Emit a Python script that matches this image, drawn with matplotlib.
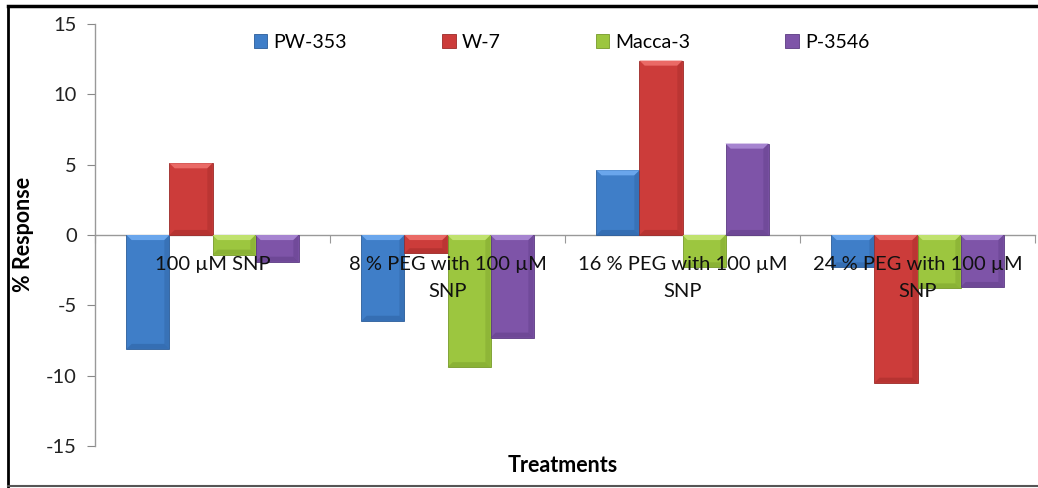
import numpy as np
import matplotlib.pyplot as plt
from matplotlib.patches import Polygon, Rectangle
from matplotlib.lines import Line2D

plt.rcParams["font.family"] = ["Lato", "DejaVu Sans"]
plt.rcParams["axes.unicode_minus"] = False

treatments = ["100 µM SNP", "8 % PEG with 100 µM\nSNP",
              "16 % PEG with 100 µM\nSNP", "24 % PEG with 100 µM\nSNP"]
genotypes = ["PW-353", "W-7", "Macca-3", "P-3546"]
pw353 = [-8.1, -6.1, 4.6, -2.3]
w7 = [5.1, -1.3, 12.4, -10.5]
macca3 = [-1.4, -9.4, -2.3, -3.8]
p3546 = [-1.9, -7.3, 6.5, -3.7]
series = [pw353, w7, macca3, p3546]

# base, light bevel, dark bevel
colors = [("#3f7ec8", "#6aa6ec", "#2b5c9a"),
          ("#cc3c3a", "#ea6a66", "#9c2a28"),
          ("#9cc63f", "#c0e26e", "#769a2a"),
          ("#7e54a8", "#a684d0", "#5b3a82")]

fig = plt.figure(figsize=(10.38, 4.88), dpi=100)
ax = fig.add_axes([95 / 1038, 1 - 446 / 488, 940 / 1038, 422 / 488])

x = np.arange(len(treatments))
w = 0.183
bx, by = 0.022, 0.36  # bevel size in data units

for i, (vals, (c, cl, cd)) in enumerate(zip(series, colors)):
    bars = ax.bar(x + (i - 1.5) * w, vals, w, color=c, edgecolor=cd,
                  linewidth=0.6, zorder=3)
    for b in bars:
        x0, x1 = b.get_x(), b.get_x() + b.get_width()
        y0, y1 = sorted([b.get_y(), b.get_y() + b.get_height()])
        d = min(by, (y1 - y0) / 2)
        ax.add_patch(Polygon([(x0, y1), (x1, y1), (x1 - bx, y1 - d), (x0 + bx, y1 - d)],
                             closed=True, fc=cl, ec="none", zorder=4))
        ax.add_patch(Polygon([(x0, y0), (x1, y0), (x1 - bx, y0 + d), (x0 + bx, y0 + d)],
                             closed=True, fc=cd, ec="none", alpha=0.45, zorder=4))
        ax.add_patch(Polygon([(x1, y0), (x1, y1), (x1 - bx, y1 - d), (x1 - bx, y0 + d)],
                             closed=True, fc=cd, ec="none", alpha=0.35, zorder=4))

ax.set_xlim(-0.5, 3.5)
ax.set_ylim(-15, 15)
ax.set_yticks([-15, -10, -5, 0, 5, 10, 15])
ax.tick_params(axis="y", direction="out", length=6, width=0.8, color="#888888",
               labelsize=14.5, labelcolor="#222222", pad=7)

ax.spines["bottom"].set_position(("data", 0))
for name in ["left", "bottom"]:
    ax.spines[name].set(color="#999999", linewidth=1.0)
for name in ["right", "top"]:
    ax.spines[name].set_visible(False)

ax.set_xticks(np.arange(-0.5, 4, 1))
ax.set_xticklabels([])
ax.tick_params(axis="x", which="major", direction="out", length=6, width=0.8, color="#999999")

# category names sit just under the zero line, on top of the bars
for xi, name in zip(x, treatments):
    ax.annotate(name, xy=(xi, 0), xytext=(0, -15), textcoords="offset points",
                ha="center", va="top", fontsize=14.5, color="#111111",
                linespacing=1.75, zorder=6)

fig.text(24 / 1038, 1 - 234 / 488, "% Response", rotation=90, ha="center", va="center",
         fontsize=15.5, fontweight="bold")
fig.text(563 / 1038, 1 - 465 / 488, "Treatments", ha="center", va="center",
         fontsize=15.5, fontweight="bold")

handles = [Rectangle((0, 0), 1, 1, fc=c, ec=cd, lw=0.6) for c, cl, cd in colors]
fig.legend(handles, genotypes, loc="upper left", bbox_to_anchor=(246 / 1038, 1 - 26 / 488),
           ncol=4, frameon=False, fontsize=14, handlelength=0.7, handleheight=0.7,
           handletextpad=0.3, columnspacing=4.9, borderaxespad=0)

# outer chart frame
fig.add_artist(Line2D([8 / 1038, 8 / 1038], [1 - 6 / 488, 1 - 487 / 488], color="black", lw=2))
fig.add_artist(Line2D([8 / 1038, 1], [1 - 6 / 488, 1 - 6 / 488], color="black", lw=2.5))
fig.add_artist(Line2D([8 / 1038, 1], [1 - 486 / 488, 1 - 486 / 488], color="#555555", lw=1.5))

fig.savefig("out.png", dpi=100)
